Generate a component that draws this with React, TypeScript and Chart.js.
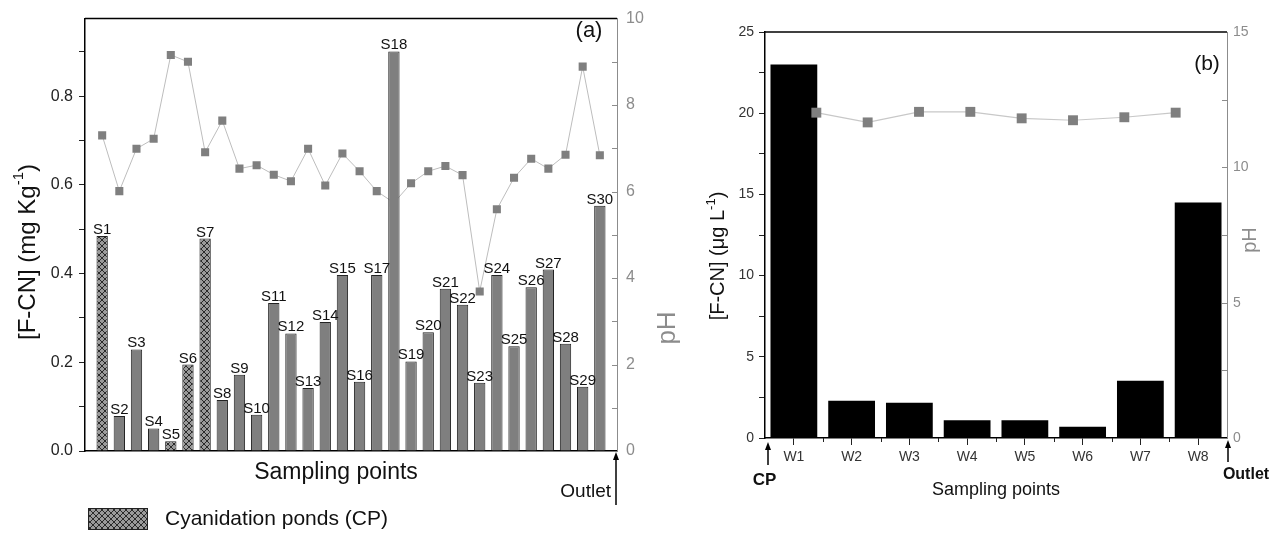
import React, { useEffect, useRef } from 'react';
import { Chart, registerables } from 'chart.js';

Chart.register(...registerables);

const FONT = '"Liberation Sans", Arial, Helvetica, sans-serif';

// ---------- Panel (a): soil samples ----------
const sampleLabels = [
  'S1', 'S2', 'S3', 'S4', 'S5', 'S6', 'S7', 'S8', 'S9', 'S10',
  'S11', 'S12', 'S13', 'S14', 'S15', 'S16', 'S17', 'S18', 'S19', 'S20',
  'S21', 'S22', 'S23', 'S24', 'S25', 'S26', 'S27', 'S28', 'S29', 'S30',
];
const fcnSoil = [
  0.485, 0.079, 0.229, 0.051, 0.022, 0.195, 0.479, 0.115, 0.172, 0.082,
  0.334, 0.265, 0.142, 0.291, 0.397, 0.156, 0.397, 0.901, 0.202, 0.268,
  0.366, 0.330, 0.154, 0.397, 0.236, 0.369, 0.409, 0.242, 0.145, 0.553,
];
const phSoil = [
  7.30, 6.01, 6.99, 7.22, 9.16, 9.00, 6.91, 7.64, 6.53, 6.61,
  6.39, 6.24, 6.99, 6.14, 6.88, 6.47, 6.01, 5.74, 6.19, 6.47,
  6.59, 6.38, 3.69, 5.59, 6.32, 6.76, 6.53, 6.85, 8.89, 6.84,
];
const cpPoints = ['S1', 'S5', 'S6', 'S7'];
const fcnSoilMax = 0.975;
const phSoilMax = 10;

// ---------- Panel (b): water samples ----------
const waterLabels = ['W1', 'W2', 'W3', 'W4', 'W5', 'W6', 'W7', 'W8'];
const fcnWater = [23.0, 2.3, 2.17, 1.09, 1.09, 0.7, 3.53, 14.5];
const phWater = [12.02, 11.66, 12.05, 12.05, 11.81, 11.74, 11.85, 12.02];
const fcnWaterMax = 25;
const phWaterMax = 15;

function makeHatch(ctx: CanvasRenderingContext2D): CanvasPattern | string {
  const c = document.createElement('canvas');
  c.width = 6;
  c.height = 6;
  const g = c.getContext('2d');
  if (!g) return '#888';
  g.fillStyle = '#9a9a9a';
  g.fillRect(0, 0, 6, 6);
  g.strokeStyle = '#2a2a2a';
  g.lineWidth = 1;
  g.beginPath();
  g.moveTo(0, 0); g.lineTo(6, 6);
  g.moveTo(6, 0); g.lineTo(0, 6);
  g.stroke();
  return ctx.createPattern(c, 'repeat') || '#888';
}

type Part = { text: string; size: number; dy: number };

function drawRotated(ctx: CanvasRenderingContext2D, cx: number, cy: number, parts: Part[], color: string) {
  ctx.save();
  ctx.translate(cx, cy);
  ctx.rotate(-Math.PI / 2);
  ctx.fillStyle = color;
  ctx.textAlign = 'left';
  ctx.textBaseline = 'middle';
  const widths = parts.map((p) => {
    ctx.font = `${p.size}px ${FONT}`;
    return ctx.measureText(p.text).width;
  });
  const total = widths.reduce((a, b) => a + b, 0);
  let x = -total / 2;
  parts.forEach((p, i) => {
    ctx.font = `${p.size}px ${FONT}`;
    ctx.fillText(p.text, x, p.dy);
    x += widths[i];
  });
  ctx.restore();
}

function drawUpArrow(ctx: CanvasRenderingContext2D, x: number, yTop: number, yBottom: number) {
  ctx.save();
  ctx.strokeStyle = '#000';
  ctx.fillStyle = '#000';
  ctx.lineWidth = 1.5;
  ctx.beginPath();
  ctx.moveTo(x, yBottom);
  ctx.lineTo(x, yTop + 6);
  ctx.stroke();
  ctx.beginPath();
  ctx.moveTo(x, yTop);
  ctx.lineTo(x - 3, yTop + 8);
  ctx.lineTo(x + 3, yTop + 8);
  ctx.closePath();
  ctx.fill();
  ctx.restore();
}

export default function App() {
  const refA = useRef<HTMLCanvasElement>(null);
  const refB = useRef<HTMLCanvasElement>(null);

  useEffect(() => {
    document.body.style.margin = '0';
    const canvasA = refA.current;
    const canvasB = refB.current;
    if (!canvasA || !canvasB) return;
    const ctxA = canvasA.getContext('2d') as CanvasRenderingContext2D;
    const hatch = makeHatch(ctxA);

    const labelsA = ['', ...sampleLabels, ''];
    const barsA = [null, ...fcnSoil, null];
    const lineA = [null, ...phSoil, null];
    const colorsA = labelsA.map((l) => (cpPoints.includes(l) ? hatch : '#7f7f7f'));

    const annotA = {
      id: 'annotA',
      afterDraw(chart: any) {
        const { ctx, chartArea: a, scales } = chart;
        ctx.save();
        ctx.strokeStyle = '#000';
        ctx.lineWidth = 1.5;
        ctx.beginPath();
        ctx.moveTo(a.left, a.top);
        ctx.lineTo(a.right, a.top);
        ctx.stroke();
        ctx.strokeStyle = '#8c8c8c';
        ctx.lineWidth = 1;
        for (let v = 1; v < phSoilMax; v++) {
          const py = Math.round(scales.y1.getPixelForValue(v)) + 0.5;
          ctx.beginPath();
          ctx.moveTo(a.right - 5, py);
          ctx.lineTo(a.right, py);
          ctx.stroke();
        }
        const meta = chart.getDatasetMeta(0);
        ctx.fillStyle = '#111';
        ctx.font = `15px ${FONT}`;
        ctx.textAlign = 'center';
        ctx.textBaseline = 'alphabetic';
        meta.data.forEach((el: any, i: number) => {
          if (!labelsA[i] || barsA[i] == null) return;
          ctx.fillText(labelsA[i], el.x, el.y - 2);
        });
        drawRotated(ctx, 28, 252, [
          { text: '[F-CN] (mg Kg', size: 24, dy: 0 },
          { text: '-1', size: 15, dy: -9 },
          { text: ')', size: 24, dy: 0 },
        ], '#111');
        drawRotated(ctx, 668, 328, [{ text: 'pH', size: 26, dy: 0 }], '#8c8c8c');
        ctx.fillStyle = '#111';
        ctx.font = `23px ${FONT}`;
        ctx.textAlign = 'center';
        ctx.textBaseline = 'middle';
        ctx.fillText('Sampling points', 336, 473);
        ctx.font = `22px ${FONT}`;
        ctx.fillText('(a)', 589, 31);
        ctx.font = `19px ${FONT}`;
        ctx.textAlign = 'right';
        ctx.fillText('Outlet', 611, 492);
        drawUpArrow(ctx, a.right - 1, a.bottom + 1, 505);
        ctx.fillStyle = hatch as any;
        ctx.fillRect(88, 508, 59, 21);
        ctx.strokeStyle = '#222';
        ctx.lineWidth = 1;
        ctx.strokeRect(88.5, 508.5, 59, 21);
        ctx.fillStyle = '#111';
        ctx.font = `21px ${FONT}`;
        ctx.textAlign = 'left';
        ctx.textBaseline = 'middle';
        ctx.fillText('Cyanidation ponds (CP)', 165, 519);
        ctx.restore();
      },
    };

    const chartA = new Chart(canvasA, {
      type: 'bar',
      data: {
        labels: labelsA,
        datasets: [
          {
            type: 'bar',
            label: '[F-CN]',
            data: barsA as any,
            backgroundColor: colorsA as any,
            borderColor: '#222',
            borderWidth: 1,
            categoryPercentage: 1,
            barPercentage: 0.66,
            grouped: false,
            yAxisID: 'y',
            xAxisID: 'x',
            order: 1,
          },
          {
            type: 'line',
            label: 'pH',
            data: lineA as any,
            borderColor: '#bdbdbd',
            borderWidth: 1,
            pointStyle: 'rect',
            pointRadius: 5.7,
            pointBackgroundColor: '#7f7f7f',
            pointBorderColor: '#7f7f7f',
            pointBorderWidth: 0,
            yAxisID: 'y1',
            xAxisID: 'x',
            order: 2,
          } as any,
        ],
      },
      options: {
        responsive: false,
        animation: false,
        devicePixelRatio: 1,
        layout: { padding: { top: 17, left: 0, right: 0, bottom: 0 } },
        plugins: { legend: { display: false }, tooltip: { enabled: false } },
        scales: {
          x: {
            type: 'category',
            offset: false,
            grid: { display: false },
            ticks: { display: false },
            border: { display: true, color: '#000', width: 1.5 },
            afterFit: (s: any) => { s.height = 82; },
          },
          y: {
            position: 'left',
            min: 0,
            max: fcnSoilMax,
            ticks: {
              stepSize: 0.1,
              includeBounds: false,
              color: '#222',
              padding: 6,
              font: { family: FONT, size: 16 },
              callback: (v: any) => (Math.round(Number(v) * 10) % 2 === 0 ? Number(v).toFixed(1) : ''),
            },
            grid: { display: true, drawOnChartArea: false, drawTicks: true, tickLength: 6, color: '#222' },
            border: { display: true, color: '#000', width: 1.5 },
            afterFit: (s: any) => { s.width = 85; },
          },
          y1: {
            position: 'right',
            min: 0,
            max: phSoilMax,
            ticks: {
              stepSize: 1,
              color: '#8c8c8c',
              padding: 9,
              font: { family: FONT, size: 16 },
              callback: (v: any) => (Math.round(Number(v)) % 2 === 0 ? String(v) : ''),
            },
            grid: { display: false, drawTicks: false },
            border: { display: true, color: '#8c8c8c', width: 1 },
            afterFit: (s: any) => { s.width = 83; },
          },
        },
      } as any,
      plugins: [annotA],
    });

    const annotB = {
      id: 'annotB',
      afterDraw(chart: any) {
        const { ctx, chartArea: a, scales } = chart;
        ctx.save();
        ctx.strokeStyle = '#000';
        ctx.lineWidth = 1.5;
        ctx.beginPath();
        ctx.moveTo(a.left, a.top);
        ctx.lineTo(a.right, a.top);
        ctx.stroke();
        ctx.strokeStyle = '#8c8c8c';
        ctx.lineWidth = 1;
        for (let v = 2.5; v < phWaterMax; v += 2.5) {
          const py = Math.round(scales.y1.getPixelForValue(v)) + 0.5;
          ctx.beginPath();
          ctx.moveTo(a.right - 5, py);
          ctx.lineTo(a.right, py);
          ctx.stroke();
        }
        ctx.strokeStyle = '#222';
        for (let i = 0; i < waterLabels.length - 1; i++) {
          const px = Math.round((scales.x.getPixelForValue(i) + scales.x.getPixelForValue(i + 1)) / 2) + 0.5;
          ctx.beginPath();
          ctx.moveTo(px, a.bottom);
          ctx.lineTo(px, a.bottom + 4);
          ctx.stroke();
        }
        drawRotated(ctx, 18, 256, [
          { text: '[F-CN] (\u03bcg L', size: 20, dy: 0 },
          { text: '-1', size: 13, dy: -7 },
          { text: ')', size: 20, dy: 0 },
        ], '#111');
        drawRotated(ctx, 550, 240, [{ text: 'pH', size: 20, dy: 0 }], '#8c8c8c');
        ctx.fillStyle = '#111';
        ctx.textAlign = 'center';
        ctx.textBaseline = 'middle';
        ctx.font = `18px ${FONT}`;
        ctx.fillText('Sampling points', 296, 490);
        ctx.font = `21px ${FONT}`;
        ctx.fillText('(b)', 507, 64);
        ctx.font = `bold 17px ${FONT}`;
        ctx.fillText('CP', 64.5, 480);
        ctx.font = `bold 16px ${FONT}`;
        ctx.fillText('Outlet', 546, 475);
        drawUpArrow(ctx, 68, a.bottom + 4, 465);
        drawUpArrow(ctx, a.right + 1, a.bottom + 2, 462);
        ctx.restore();
      },
    };

    const chartB = new Chart(canvasB, {
      type: 'bar',
      data: {
        labels: waterLabels,
        datasets: [
          {
            type: 'bar',
            label: '[F-CN]',
            data: fcnWater,
            backgroundColor: '#000',
            borderWidth: 0,
            categoryPercentage: 1,
            barPercentage: 0.81,
            grouped: false,
            xAxisID: 'x',
            yAxisID: 'y',
            order: 1,
          },
          {
            type: 'line',
            label: 'pH',
            data: phWater.map((v, i) => ({ x: i + 1, y: v })),
            borderColor: '#c8c8c8',
            borderWidth: 1.2,
            pointStyle: 'rect',
            pointRadius: 7,
            pointBackgroundColor: '#7f7f7f',
            pointBorderColor: '#7f7f7f',
            pointBorderWidth: 0,
            xAxisID: 'x2',
            yAxisID: 'y1',
            order: 0,
          } as any,
        ],
      },
      options: {
        responsive: false,
        animation: false,
        devicePixelRatio: 1,
        layout: { padding: { top: 32, left: 0, right: 0, bottom: 0 } },
        plugins: { legend: { display: false }, tooltip: { enabled: false } },
        scales: {
          x: {
            type: 'category',
            offset: true,
            grid: { display: true, drawOnChartArea: false, offset: false, drawTicks: true, tickLength: 7, color: '#222' },
            ticks: { color: '#333', padding: 4, maxRotation: 0, font: { family: FONT, size: 14 } },
            border: { display: true, color: '#000', width: 1.5 },
            afterFit: (s: any) => { s.height = 95; },
          },
          x2: { type: 'linear', display: false, offset: false, min: 0, max: 9 },
          y: {
            position: 'left',
            min: 0,
            max: fcnWaterMax,
            ticks: {
              stepSize: 2.5,
              color: '#333',
              padding: 5,
              font: { family: FONT, size: 14 },
              callback: (v: any) => (Number(v) % 5 === 0 ? String(v) : ''),
            },
            grid: { display: true, drawOnChartArea: false, drawTicks: true, tickLength: 6, color: '#222' },
            border: { display: true, color: '#000', width: 1.5 },
            afterFit: (s: any) => { s.width = 65; },
          },
          y1: {
            position: 'right',
            min: 0,
            max: phWaterMax,
            ticks: {
              stepSize: 2.5,
              color: '#8c8c8c',
              padding: 6,
              font: { family: FONT, size: 14 },
              callback: (v: any) => (Number(v) % 5 === 0 ? String(v) : ''),
            },
            grid: { display: false, drawTicks: false },
            border: { display: true, color: '#8c8c8c', width: 1 },
            afterFit: (s: any) => { s.width = 55; },
          },
        },
      } as any,
      plugins: [annotB],
    });

    return () => {
      chartA.destroy();
      chartB.destroy();
    };
  }, []);

  return (
    <div style={{ position: 'absolute', left: 0, top: 0, width: 1282, height: 533, background: '#fff' }}>
      <canvas ref={refA} width={700} height={533} style={{ position: 'absolute', left: 0, top: 0, width: 700, height: 533 }} />
      <canvas ref={refB} width={582} height={533} style={{ position: 'absolute', left: 700, top: 0, width: 582, height: 533 }} />
    </div>
  );
}
